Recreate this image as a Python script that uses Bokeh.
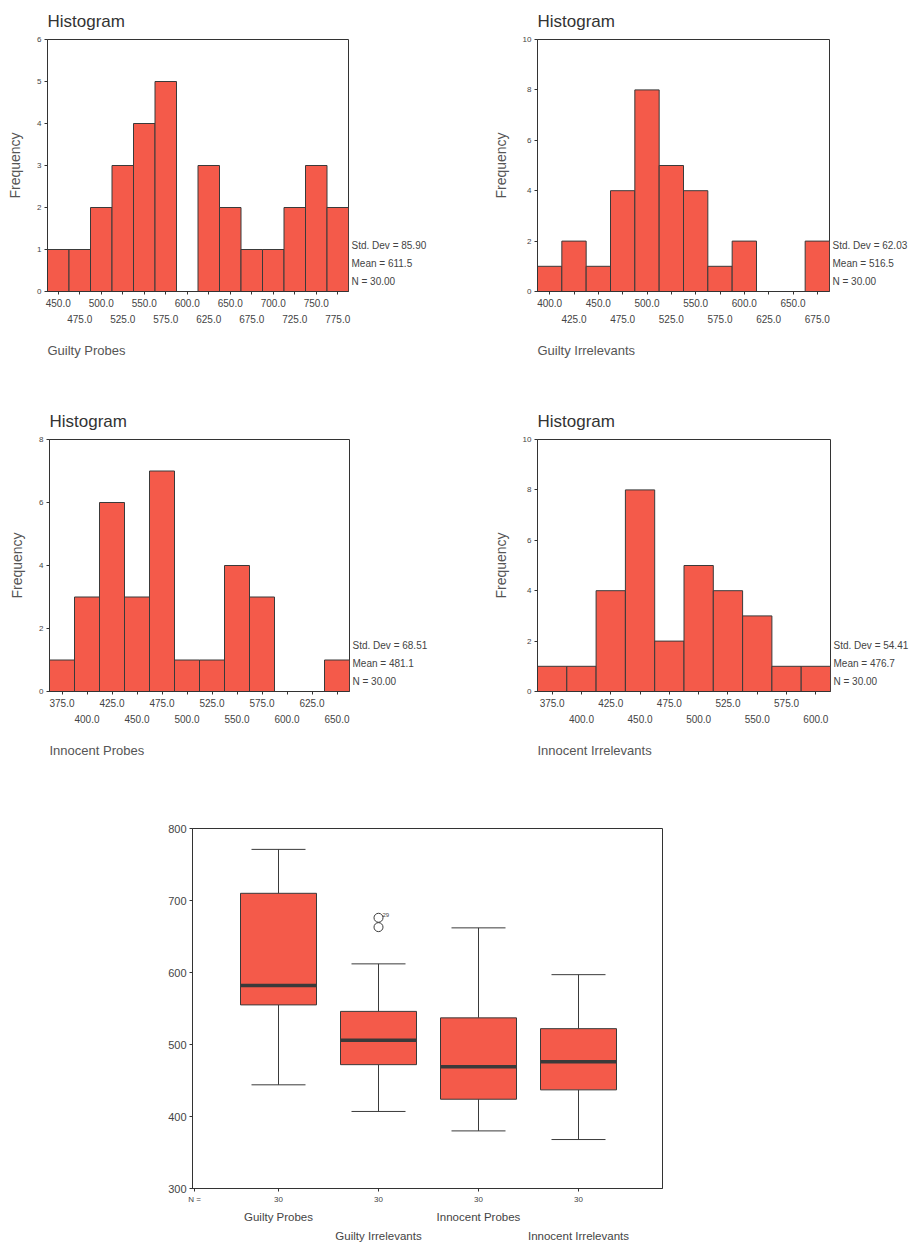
from bokeh.plotting import figure
from bokeh.models import LinearAxis, FixedTicker, Title, Label, Range1d, Spacer
from bokeh.layouts import column, row
from bokeh.embed import file_html
from bokeh.resources import INLINE

FONT = "Liberation Sans"
BAR_FILL = "#f45a4a"
EDGE = "#3a3a3a"
TXT = "#444444"

# ---------------- data ----------------
gp_name = "Guilty Probes"
gp_centers = [450, 475, 500, 525, 550, 575, 600, 625, 650, 675, 700, 725, 750, 775]
gp_counts = [1, 1, 2, 3, 4, 5, 0, 3, 2, 1, 1, 2, 3, 2]
gp_stats = ["Std. Dev = 85.90", "Mean = 611.5", "N = 30.00"]

gi_name = "Guilty Irrelevants"
gi_centers = [400, 425, 450, 475, 500, 525, 550, 575, 600, 625, 650, 675]
gi_counts = [1, 2, 1, 4, 8, 5, 4, 1, 2, 0, 0, 2]
gi_stats = ["Std. Dev = 62.03", "Mean = 516.5", "N = 30.00"]

ip_name = "Innocent Probes"
ip_centers = [375, 400, 425, 450, 475, 500, 525, 550, 575, 600, 625, 650]
ip_counts = [1, 3, 6, 3, 7, 1, 1, 4, 3, 0, 0, 1]
ip_stats = ["Std. Dev = 68.51", "Mean = 481.1", "N = 30.00"]

ii_name = "Innocent Irrelevants"
ii_centers = [375, 400, 425, 450, 475, 500, 525, 550, 575, 600]
ii_counts = [1, 1, 4, 8, 2, 5, 4, 3, 1, 1]
ii_stats = ["Std. Dev = 54.41", "Mean = 476.7", "N = 30.00"]

box_labels = ["Guilty Probes", "Guilty Irrelevants", "Innocent Probes", "Innocent Irrelevants"]
box_low = [444, 407, 380, 368]
box_q1 = [555, 472, 424, 437]
box_med = [582, 506, 469, 476]
box_q3 = [710, 546, 537, 522]
box_high = [771, 612, 662, 597]
box_n = [30, 30, 30, 30]
outlier_group = [2, 2]
outlier_values = [676, 663]
outlier_case = "29"


def histogram(name, centers, counts, stats, ymax, ystep, width, height,
              left, right, top, bottom):
    bw = centers[1] - centers[0]
    p = figure(width=width, height=height,
               x_range=Range1d(centers[0] - bw / 2, centers[-1] + bw / 2),
               y_range=Range1d(0, ymax),
               output_backend="svg", toolbar_location=None,
               min_border_left=left, min_border_right=right,
               min_border_top=top, min_border_bottom=bottom,
               title="Histogram")
    p.title.text_font = FONT
    p.title.text_font_size = "17px"
    p.title.text_font_style = "normal"
    p.title.text_color = "#333333"
    p.title.align = "left"
    p.title.standoff = 18
    p.xgrid.visible = False
    p.ygrid.visible = False
    p.outline_line_color = "#333333"
    p.background_fill_color = "white"
    p.border_fill_color = "white"

    lefts = [c - bw / 2 for c, n in zip(centers, counts) if n > 0]
    rights = [c + bw / 2 for c, n in zip(centers, counts) if n > 0]
    tops = [n for n in counts if n > 0]
    p.quad(left=lefts, right=rights, bottom=0, top=tops,
           fill_color=BAR_FILL, line_color=EDGE, line_width=1)

    # x axes (two rows of labels)
    top_labels = {c: (f"{c:.1f}" if i % 2 == 0 else "") for i, c in enumerate(centers)}
    bot_labels = {c: (f"{c:.1f}" if i % 2 == 1 else "") for i, c in enumerate(centers)}
    xa = p.xaxis[0]
    xa.ticker = FixedTicker(ticks=centers)
    xa.major_label_overrides = top_labels
    xa.minor_tick_line_color = None
    xa.major_tick_out = 3
    xa.major_tick_in = 0
    xa.major_label_standoff = 4
    xa.axis_line_color = "#333333"
    xa.major_tick_line_color = "#333333"
    xa.major_label_text_font = FONT
    xa.major_label_text_font_size = "10px"
    xa.major_label_text_color = TXT

    xa2 = LinearAxis(ticker=FixedTicker(ticks=centers), major_label_overrides=bot_labels,
                     axis_line_color=None, major_tick_line_color=None,
                     minor_tick_line_color=None, major_tick_out=0, major_tick_in=0,
                     major_label_standoff=5, major_label_text_font=FONT,
                     major_label_text_font_size="10px", major_label_text_color=TXT)
    p.add_layout(xa2, "below")
    p.add_layout(Title(text=name, align="left", text_font=FONT, text_font_size="13px",
                       text_font_style="normal", text_color="#555555", standoff=31), "below")

    ya = p.yaxis[0]
    ya.ticker = FixedTicker(ticks=list(range(0, ymax + 1, ystep)))
    ya.minor_tick_line_color = None
    ya.major_tick_out = 3
    ya.major_tick_in = 0
    ya.major_label_standoff = 3
    ya.axis_line_color = "#333333"
    ya.major_tick_line_color = "#333333"
    ya.major_label_text_font = FONT
    ya.major_label_text_font_size = "8px"
    ya.major_label_text_color = TXT
    ya.axis_label = "Frequency"
    ya.axis_label_text_font = FONT
    ya.axis_label_text_font_size = "14px"
    ya.axis_label_text_font_style = "normal"
    ya.axis_label_text_color = "#555555"
    ya.axis_label_standoff = 11

    # summary statistics, written beside the frame as labels of a right-hand axis
    frame_h = height - top - bottom
    stat_y = [px * ymax / frame_h for px in [46, 28, 10]]
    ra = LinearAxis(ticker=FixedTicker(ticks=stat_y),
                    major_label_overrides={y: t for y, t in zip(stat_y, stats)},
                    axis_line_color=None, major_tick_line_color=None,
                    minor_tick_line_color=None, major_tick_out=0, major_tick_in=0,
                    major_label_standoff=3, major_label_text_font=FONT,
                    major_label_text_font_size="10px", major_label_text_color=TXT)
    p.add_layout(ra, "right")
    return p


h1 = histogram(gp_name, gp_centers, gp_counts, gp_stats, 6, 1, 460, 400, 47, 112, 38, 109)
h2 = histogram(gi_name, gi_centers, gi_counts, gi_stats, 10, 2, 452, 400, 77, 83, 38, 109)
h3 = histogram(ip_name, ip_centers, ip_counts, ip_stats, 8, 2, 460, 400, 49, 111, 38, 109)
h4 = histogram(ii_name, ii_centers, ii_counts, ii_stats, 10, 2, 452, 400, 77, 82, 38, 109)

# ---------------- boxplot ----------------
pos = list(range(1, len(box_labels) + 1))
x_lo, x_hi = 0.14, 4.84
bp = figure(width=552, height=445, x_range=Range1d(x_lo, x_hi), y_range=Range1d(300, 800),
            output_backend="svg", toolbar_location=None,
            min_border_left=42, min_border_right=40, min_border_top=28, min_border_bottom=57)
bp.xgrid.visible = False
bp.ygrid.visible = False
bp.outline_line_color = "#333333"

bp.segment(x0=pos, y0=box_q3, x1=pos, y1=box_high, line_color=EDGE, line_width=1)
bp.segment(x0=pos, y0=box_low, x1=pos, y1=box_q1, line_color=EDGE, line_width=1)
bp.segment(x0=[x - 0.27 for x in pos], y0=box_high, x1=[x + 0.27 for x in pos], y1=box_high,
           line_color=EDGE, line_width=1)
bp.segment(x0=[x - 0.27 for x in pos], y0=box_low, x1=[x + 0.27 for x in pos], y1=box_low,
           line_color=EDGE, line_width=1)
bp.vbar(x=pos, width=0.76, bottom=box_q1, top=box_q3, fill_color=BAR_FILL,
        line_color=EDGE, line_width=1)
bp.segment(x0=[x - 0.38 for x in pos], y0=box_med, x1=[x + 0.38 for x in pos], y1=box_med,
           line_color="#3a3a3a", line_width=3.5)
bp.scatter(x=outlier_group, y=outlier_values, marker="circle", size=9,
           fill_color=None, line_color=EDGE, line_width=1)
bp.add_layout(Label(x=outlier_group[0], y=outlier_values[0], x_offset=4, y_offset=1,
                    text=outlier_case, text_font=FONT, text_font_size="6px",
                    text_color=TXT, text_baseline="bottom", text_align="left"))

n_pos = x_lo + 0.02
xa = bp.xaxis[0]
xa.ticker = FixedTicker(ticks=[n_pos] + pos)
overr = {x: str(n) for x, n in zip(pos, box_n)}
overr[n_pos] = "N ="
xa.major_label_overrides = overr
xa.minor_tick_line_color = None
xa.major_tick_out = 3
xa.major_tick_in = 0
xa.major_label_standoff = 3
xa.axis_line_color = "#333333"
xa.major_tick_line_color = "#333333"
xa.major_label_text_font = FONT
xa.major_label_text_font_size = "8px"
xa.major_label_text_color = TXT

row_a = {x: (lab if i % 2 == 0 else "") for i, (x, lab) in enumerate(zip(pos, box_labels))}
row_b = {x: (lab if i % 2 == 1 else "") for i, (x, lab) in enumerate(zip(pos, box_labels))}
for overrides, standoff in [(row_a, 4), (row_b, 4)]:
    ax = LinearAxis(ticker=FixedTicker(ticks=pos), major_label_overrides=overrides,
                    axis_line_color=None, major_tick_line_color=None,
                    minor_tick_line_color=None, major_tick_out=0, major_tick_in=0,
                    major_label_standoff=standoff, major_label_text_font=FONT,
                    major_label_text_font_size="11.5px", major_label_text_color=TXT)
    bp.add_layout(ax, "below")

ya = bp.yaxis[0]
ya.ticker = FixedTicker(ticks=[300, 400, 500, 600, 700, 800])
ya.minor_tick_line_color = None
ya.major_tick_out = 3
ya.major_tick_in = 0
ya.major_label_standoff = 3
ya.axis_line_color = "#333333"
ya.major_tick_line_color = "#333333"
ya.major_label_text_font = FONT
ya.major_label_text_font_size = "11px"
ya.major_label_text_color = TXT

layout = column(row(h1, h2), row(h3, h4), row(Spacer(width=150, height=445), bp))

with open("out.html", "w") as f:
    f.write(file_html(layout, INLINE))
